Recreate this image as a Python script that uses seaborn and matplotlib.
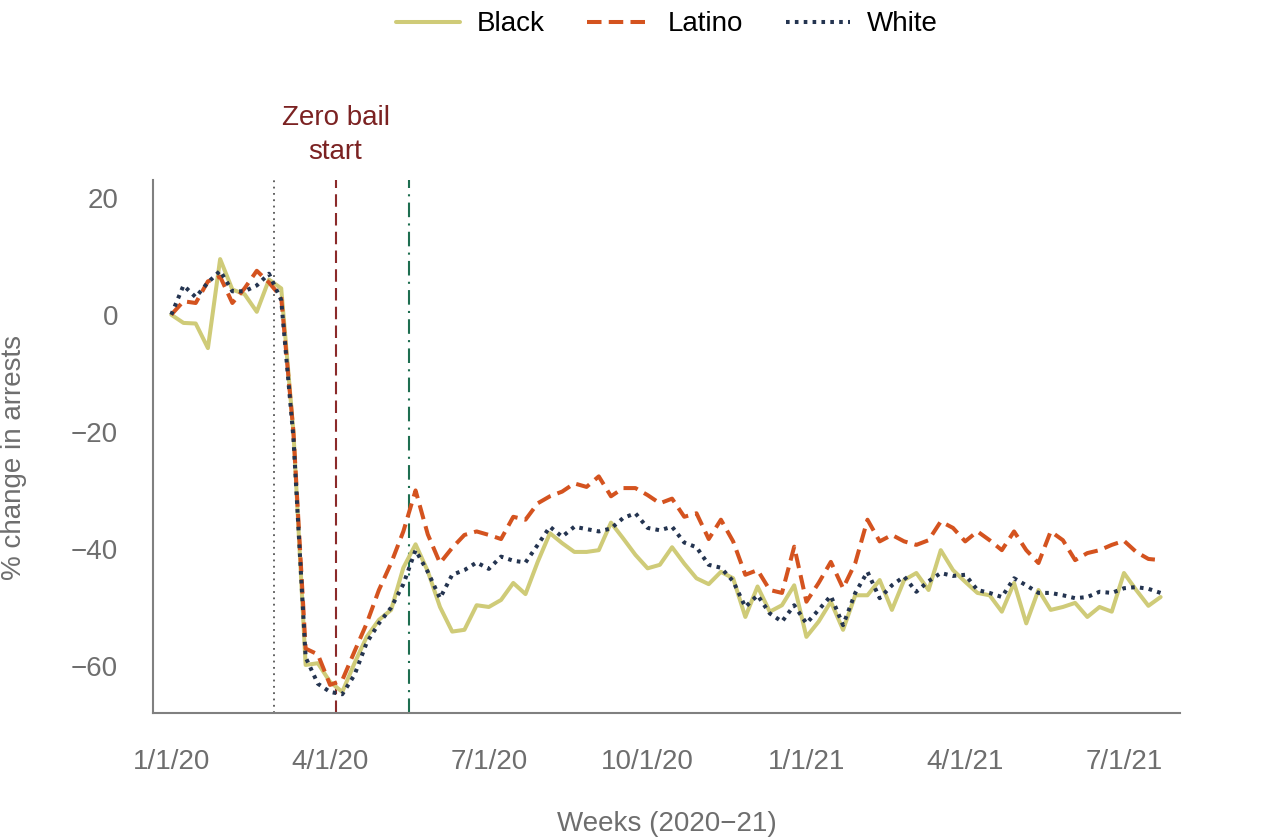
import numpy as np
import pandas as pd
import seaborn as sns
import matplotlib
matplotlib.use("Agg")
import matplotlib.pyplot as plt
from matplotlib.lines import Line2D

tick_labels = ["1/1/20", "4/1/20", "7/1/20", "10/1/20", "1/1/21", "4/1/21", "7/1/21"]
tick_weeks = [0, 13, 26, 39, 52, 65, 78]

black = [0, -1.4, -1.5, -5.7, 9.5, 4.3, 3.5, 0.5, 6, 4.5,
         -20, -59.8, -59.5, -62.7, -64.4, -59.5, -55, -52.1, -50.4, -43.2,
         -39.2, -43.8, -49.9, -54.1, -53.8, -49.6, -49.9, -48.7, -45.8, -47.7,
         -42.2, -37.3, -39, -40.5, -40.5, -40.2, -35.5, -38.2, -41, -43.3,
         -42.7, -39.7, -42.5, -45, -46, -43.9, -45, -51.6, -46.4, -50.7,
         -49.6, -46.2, -55, -52.4, -49, -53.8, -47.9, -47.9, -45.3, -50.4,
         -45.3, -44.1, -47, -40.2, -43.6, -45.6, -47.5, -47.9, -50.7, -45.8,
         -52.7, -47, -50.4, -49.9, -49.2, -51.6, -49.9, -50.7, -44.1, -47,
         -49.7, -48.2]

latino = [0, 2.3, 2, 5.7, 6.5, 2, 4.5, 7.5, 5.5, 3,
          -20, -57, -58, -63.2, -62.4, -57.5, -52.7, -47, -42.4, -37,
          -30, -37.5, -42.4, -39.8, -37.6, -37, -37.6, -38.3, -34.5, -35,
          -32.2, -31, -30.2, -28.8, -29.4, -27.6, -31, -29.6, -29.6, -30.8,
          -32.2, -31.4, -34.5, -33.9, -38.3, -35, -38.7, -44.4, -43.6, -47,
          -47.5, -39.6, -49, -45.8, -42.2, -46.7, -42.4, -35, -38.7, -37.6,
          -38.7, -39.3, -38.5, -35.3, -36.4, -38.7, -37, -38.5, -40.2, -37,
          -40.2, -42.4, -37, -38.5, -41.9, -40.7, -40.2, -39.3, -38.6, -40.5,
          -41.7, -41.9]

white = [0, 5, 3, 5.5, 7.5, 4, 4, 5, 7, 2.5,
         -21, -58.5, -63, -64.4, -64.8, -61.5, -56, -52.7, -50, -46,
         -40.2, -43.9, -48.4, -44.4, -43.6, -42.3, -43.4, -41.3, -42, -42.3,
         -39.3, -36.2, -37.9, -36.2, -36.6, -37, -36.5, -34.7, -33.9, -36.4,
         -36.8, -36.2, -38.9, -39.7, -42.7, -43.2, -45.5, -49.9, -47.9, -51,
         -52.4, -49.6, -52.7, -50.4, -48, -53, -47.5, -43.9, -48.4, -46.2,
         -44.7, -47.3, -45.5, -44.1, -44.6, -44.4, -47, -47.5, -48.2, -45,
         -46.2, -47.5, -47.5, -47.9, -48.4, -48.2, -47.3, -47.5, -46.7, -46.5,
         -46.8, -47.5]

groups = ["Black", "Latino", "White"]
event_weeks = [8.45, 13.45, 19.45]

sns.set_theme(style="white")
plt.rcParams['font.family'] = ['Liberation Sans', 'DejaVu Sans']

frames = []
for name, vals in zip(groups, [black, latino, white]):
    frames.append(pd.DataFrame({"week": np.arange(len(vals)), "value": vals, "group": name}))
df = pd.concat(frames, ignore_index=True)

palette = {"Black": "#CFCB78", "Latino": "#D4531F", "White": "#243450"}
dashes = {"Black": "", "Latino": (3.6, 1.8), "White": (0.9, 1.3)}

fig = plt.figure(figsize=(12.8, 8.4), dpi=100)
ax = fig.add_axes([0.1195, 0.1512, 0.8025, 0.6345])

sns.lineplot(data=df, x="week", y="value", hue="group", style="group",
             palette=palette, dashes=dashes, linewidth=2.9, ax=ax, legend=False)

# event lines
ax.axvline(event_weeks[0], color="#555555", linestyle=(0, (1, 2.5)), linewidth=1.3, zorder=1)
ax.axvline(event_weeks[1], color="#8B2A2A", linestyle=(0, (6, 3)), linewidth=1.5, zorder=1)
ax.axvline(event_weeks[2], color="#1E6E50", linestyle=(0, (7, 3, 1, 3)), linewidth=1.5, zorder=1)

ax.text(event_weeks[1], 1.085, "Zero bail\nstart", transform=ax.get_xaxis_transform(),
        ha="center", va="center", color="#7B2222", fontsize=20, linespacing=1.38)

ax.set_xlim(-1.5, 82.6)
ax.set_ylim(-68, 23)
ax.set_xticks(tick_weeks)
ax.set_xticklabels(tick_labels)
ax.set_yticks([-60, -40, -20, 0, 20])
ax.tick_params(axis="x", length=0, pad=26, labelsize=20, labelcolor="#6E6E6E")
ax.tick_params(axis="y", length=0, pad=25, labelsize=20, labelcolor="#6E6E6E")
ax.set_xlabel("Weeks (2020\u221221)", fontsize=20, color="#6E6E6E")
ax.set_ylabel("% change in arrests", fontsize=20, color="#6E6E6E")
ax.xaxis.set_label_coords(0.5, -0.184)
ax.yaxis.set_label_coords(-0.1227, 0.48)

for s in ["top", "right"]:
    ax.spines[s].set_visible(False)
for s in ["left", "bottom"]:
    ax.spines[s].set_color("#808080")
    ax.spines[s].set_linewidth(1.5)

handles = [Line2D([0], [0], color=palette[g], linewidth=2.9,
                  linestyle=(0, dashes[g]) if dashes[g] else "-") for g in groups]
leg = fig.legend(handles, groups, loc="center", bbox_to_anchor=(0.521, 0.971), ncol=3,
                 frameon=False, fontsize=20, handlelength=2.3, columnspacing=1.55,
                 handletextpad=0.6)
for t in leg.get_texts():
    t.set_color("black")

fig.savefig("out.png", dpi=100)
